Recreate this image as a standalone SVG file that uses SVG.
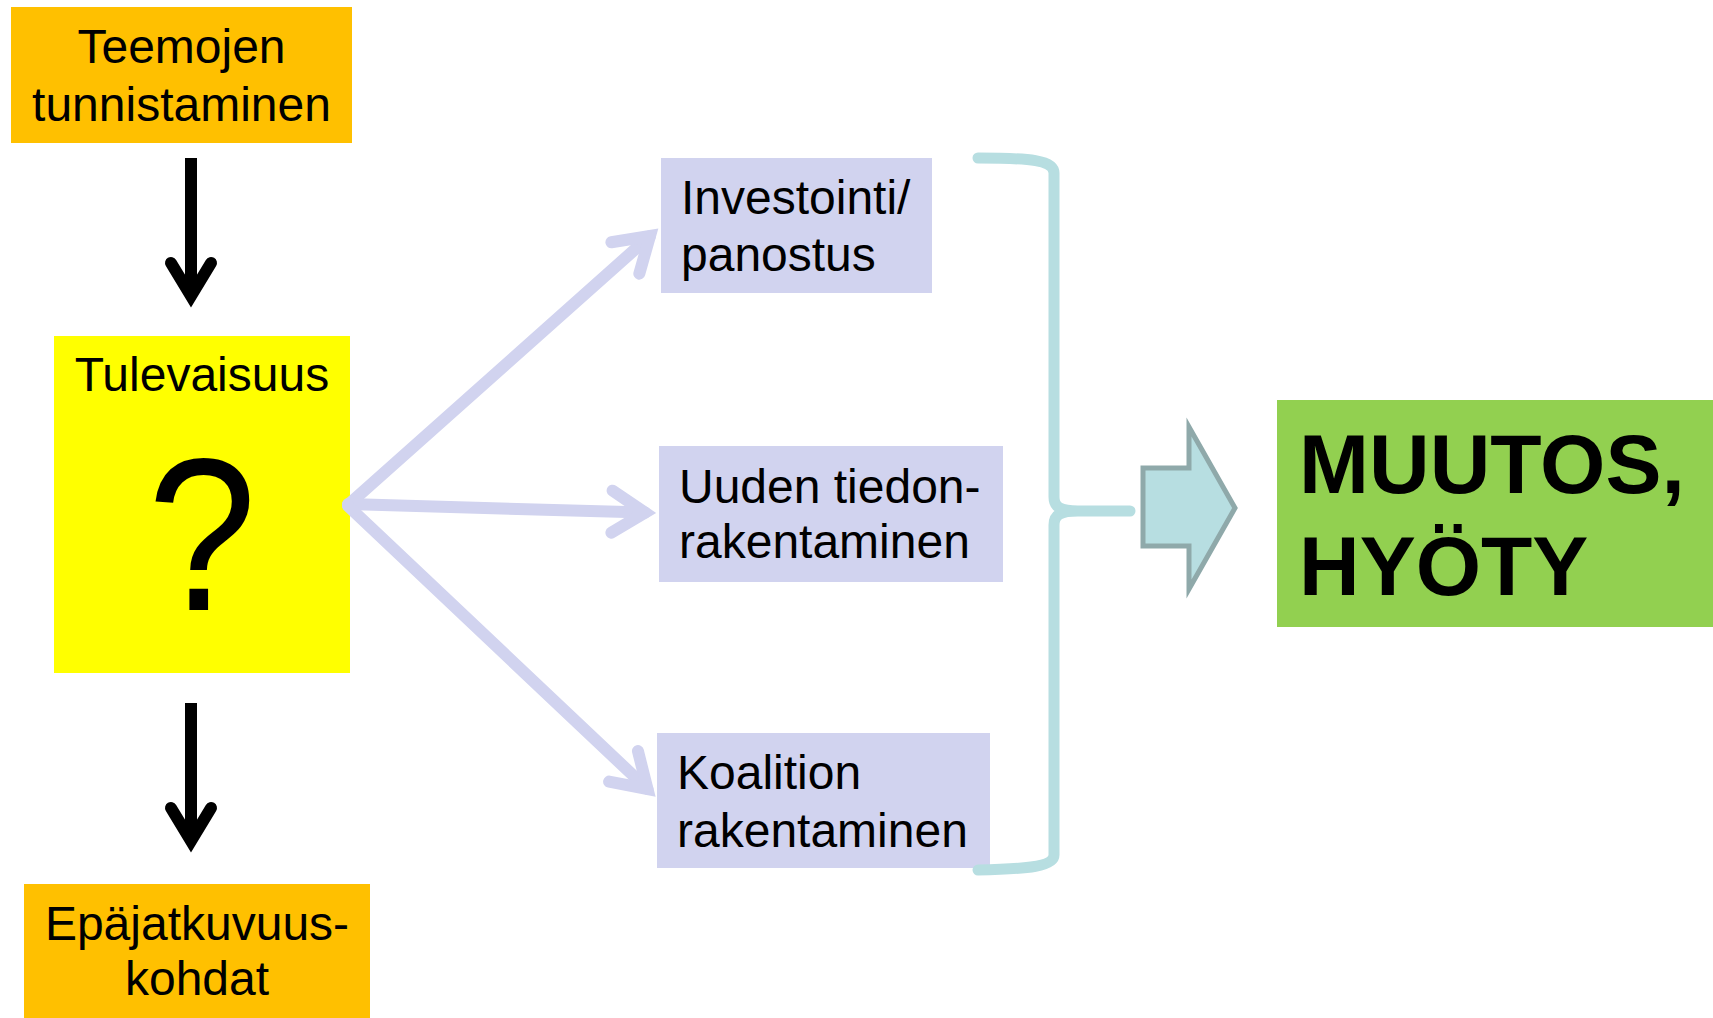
<svg xmlns="http://www.w3.org/2000/svg" width="1713" height="1018" viewBox="0 0 1713 1018">
<style>
text{font-family:"Liberation Sans",Arial,sans-serif;fill:#000;}
.t{font-size:48px;}
.c{text-anchor:middle;}
.big{font-size:84px;font-weight:bold;}
.blk{stroke:#000;stroke-width:12;fill:none;}
.lav{stroke:#D1D3EF;stroke-width:12;fill:none;stroke-linecap:round;}
</style>
<defs>
<marker id="lavHead" markerUnits="userSpaceOnUse" orient="auto" refX="0" refY="0" markerWidth="60" markerHeight="60" overflow="visible">
<path d="M-33,-21 L0,0 L-33,21" fill="none" stroke="#D1D3EF" stroke-width="12" stroke-linecap="round" stroke-linejoin="miter"/>
</marker>
</defs>
<rect width="1713" height="1018" fill="#fff"/>

<g id="teemojen">
<rect x="11" y="7" width="341" height="136" fill="#FFC000"/>
<text class="t c" x="181.5" y="63">Teemojen</text>
<text class="t c" x="181.5" y="121">tunnistaminen</text>
</g>

<g id="tulevaisuus">
<rect x="54" y="336" width="296" height="337" fill="#FFFF00"/>
<text class="t c" x="202" y="391">Tulevaisuus</text>
<text class="c" transform="translate(202,610) scale(1,1.11)" x="0" y="0" style="font-size:196px">?</text>
</g>

<g id="epajatkuvuus">
<rect x="24" y="884" width="346" height="134" fill="#FFC000"/>
<text class="t c" x="197" y="940">Epäjatkuvuus-</text>
<text class="t c" x="197" y="995">kohdat</text>
</g>

<g id="investointi">
<rect x="661" y="158" width="271" height="135" fill="#D1D3EF"/>
<text class="t" x="681" y="214">Investointi/</text>
<text class="t" x="681" y="271">panostus</text>
</g>

<g id="uuden">
<rect x="659" y="446" width="344" height="136" fill="#D1D3EF"/>
<text class="t" x="679" y="503">Uuden tiedon-</text>
<text class="t" x="679" y="558">rakentaminen</text>
</g>

<g id="koalition">
<rect x="657" y="733" width="333" height="135" fill="#D1D3EF"/>
<text class="t" x="677" y="789">Koalition</text>
<text class="t" x="677" y="847">rakentaminen</text>
</g>

<g id="muutos">
<rect x="1277" y="400" width="436" height="227" fill="#92D050"/>
<text class="big" x="1299" y="493">MUUTOS,</text>
<text class="big" x="1299" y="595">HYÖTY</text>
</g>

<g id="connectors">
<line class="blk" x1="191" y1="158" x2="191" y2="296"/>
<path class="blk" d="M171,263 L191,296 L211,263" stroke-linecap="round" stroke-linejoin="miter"/>
<line class="blk" x1="191" y1="703" x2="191" y2="841"/>
<path class="blk" d="M171,808 L191,841 L211,808" stroke-linecap="round" stroke-linejoin="miter"/>

<line class="lav" x1="348" y1="505" x2="650" y2="236" marker-end="url(#lavHead)"/>
<line class="lav" x1="348" y1="504" x2="645" y2="512.6" marker-end="url(#lavHead)"/>
<line class="lav" x1="348" y1="506" x2="647.5" y2="789" marker-end="url(#lavHead)"/>

<path d="M978,158 C1030,158 1054,160 1054,173 L1054,497 C1054,507 1060,511 1078,511 L1130,511 M1078,511 C1060,511 1054,515 1054,525 L1054,855 C1054,866 1030,869 978,870" fill="none" stroke="#B7DEE1" stroke-width="11" stroke-linecap="round" stroke-linejoin="round"/>

<path d="M1143,468 L1189,468 L1189,427 L1235,508 L1189,589 L1189,546 L1143,546 Z" fill="#B7DEE1" stroke="#8FA9AA" stroke-width="5"/>
</g>
</svg>
